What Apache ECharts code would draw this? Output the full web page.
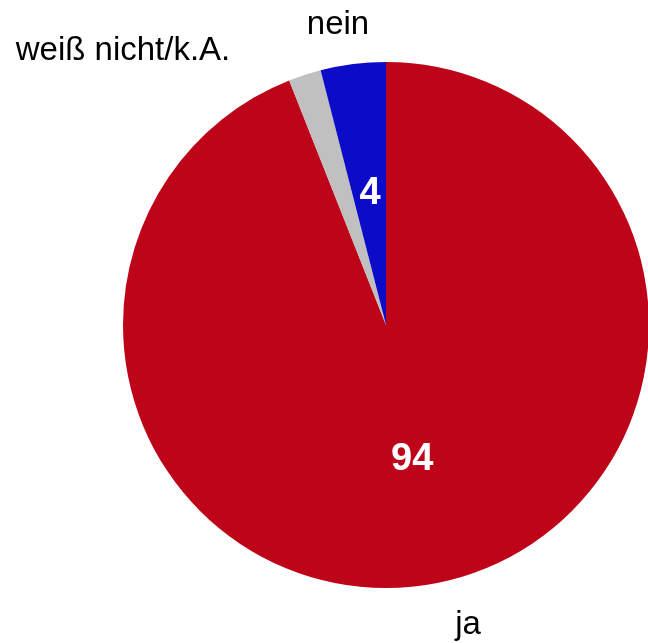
<!DOCTYPE html>
<html>
<head>
<meta charset="utf-8">
<script src="https://cdn.jsdelivr.net/npm/echarts@6/dist/echarts.min.js"></script>
<style>html,body{margin:0;padding:0;background:#fff}#c{width:648px;height:643px}</style>
</head>
<body>
<div id="c"></div>
<script>
const categories = ['ja', 'weiß nicht/k.A.', 'nein'];
const values = [94, 2, 4];
const colors = ['#BE0419', '#C0C0C0', '#0C0CC8'];
const showValue = [true, false, true];
const nameLabelPos = [[468, 625], [123, 51], [338, 25]];

const chart = echarts.init(document.getElementById('c'));
const base = {
  type: 'pie',
  center: [386, 325],
  radius: 263,
  startAngle: 90,
  clockwise: true,
  avoidLabelOverlap: false,
  animation: false
};
chart.setOption({
  backgroundColor: '#ffffff',
  series: [
    Object.assign({}, base, {
      data: categories.map((c, i) => ({
        name: c, value: values[i],
        itemStyle: { color: colors[i] },
        label: { show: showValue[i] }
      })),
      label: {
        position: 'inside',
        formatter: '{c}',
        color: '#ffffff',
        fontFamily: 'Liberation Sans, Arial, sans-serif',
        fontWeight: 'bold',
        fontSize: 38,
        offset: [1, 2]
      },
      labelLine: { show: false }
    }),
    Object.assign({}, base, {
      silent: true,
      z: 3,
      data: categories.map((c, i) => ({
        name: c, value: values[i],
        itemStyle: { color: 'rgba(0,0,0,0)' }
      })),
      label: {
        show: true,
        position: 'outside',
        formatter: '{b}',
        color: '#000000',
        fontFamily: 'Liberation Sans, Arial, sans-serif',
        fontSize: 33
      },
      labelLine: { show: false },
      labelLayout: function (p) {
        const pos = nameLabelPos[p.dataIndex];
        return { x: pos[0], y: pos[1], align: 'center', verticalAlign: 'middle' };
      }
    })
  ]
});
</script>
</body>
</html>
